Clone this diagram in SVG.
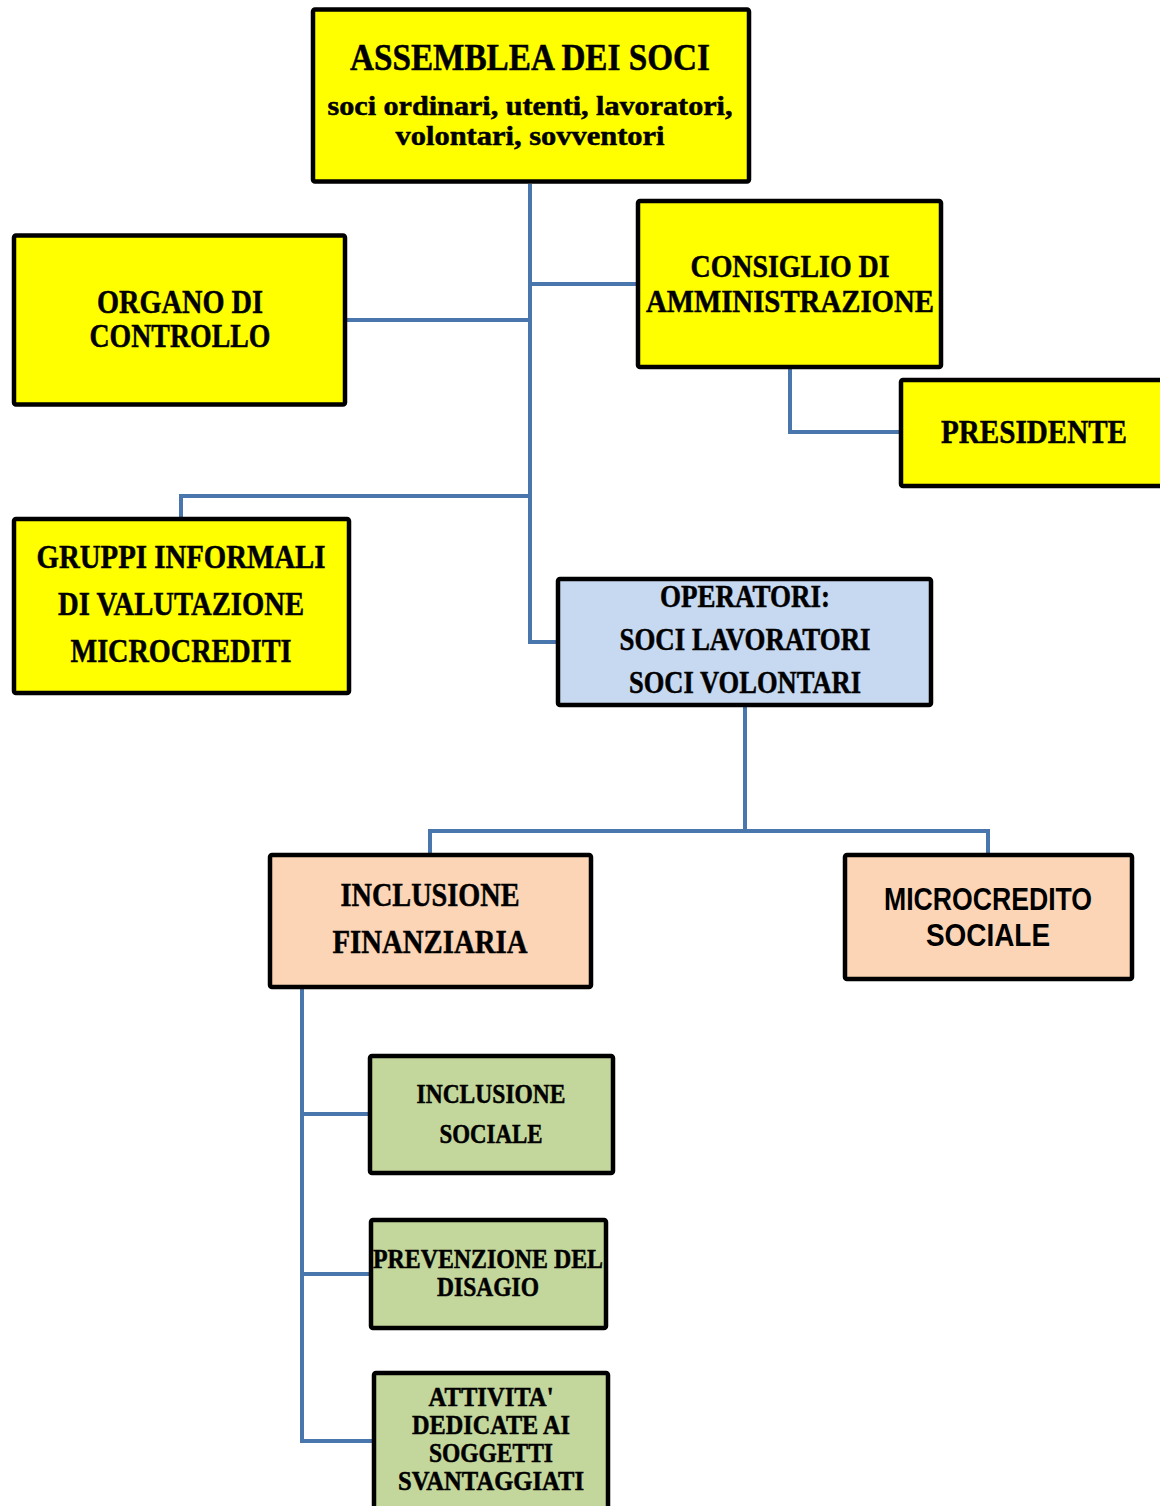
<svg xmlns="http://www.w3.org/2000/svg" width="1160" height="1506" viewBox="0 0 1160 1506">
<style>
.box{stroke:#000;stroke-width:4.5}
.y{fill:#ffff00}
.b{fill:#c6d9f1}
.o{fill:#fbd5b5}
.g{fill:#c3d69b}
.t{font-family:"Liberation Serif","DejaVu Serif",serif;font-weight:bold;fill:#000;stroke:#000;stroke-width:0.5;text-anchor:middle}
.s{font-family:"Liberation Sans","DejaVu Sans",sans-serif;font-weight:bold;fill:#000;text-anchor:middle}
.c{fill:none;stroke:#4a76ae;stroke-width:4}
</style>
<rect width="1160" height="1506" fill="#fff"/>
<g id="connectors">
<path class="c" d="M530 184 V642 H556"/>
<path class="c" d="M530 284 H636"/>
<path class="c" d="M347 320 H530"/>
<path class="c" d="M530 496 H181 V517"/>
<path class="c" d="M790 369 V432 H899"/>
<path class="c" d="M745 707 V831"/>
<path class="c" d="M430 853 V831 H988 V853"/>
<path class="c" d="M302 989 V1441 H372"/>
<path class="c" d="M302 1114 H368"/>
<path class="c" d="M302 1274 H369"/>
</g>
<g id="assemblea">
<rect class="box y" x="313" y="9.5" width="436" height="172" rx="2"/>
<text class="t" x="530" y="70" font-size="38" textLength="360" lengthAdjust="spacingAndGlyphs">ASSEMBLEA DEI SOCI</text>
<text class="t" x="530" y="115" font-size="27" textLength="405" lengthAdjust="spacingAndGlyphs">soci ordinari, utenti, lavoratori,</text>
<text class="t" x="530" y="145" font-size="27" textLength="269" lengthAdjust="spacingAndGlyphs">volontari, sovventori</text>
</g>
<g id="organo">
<rect class="box y" x="14" y="235.5" width="331" height="169" rx="2"/>
<text class="t" x="180" y="313" font-size="34" textLength="166" lengthAdjust="spacingAndGlyphs">ORGANO DI</text>
<text class="t" x="180" y="347" font-size="34" textLength="181" lengthAdjust="spacingAndGlyphs">CONTROLLO</text>
</g>
<g id="consiglio">
<rect class="box y" x="638" y="201" width="303" height="166" rx="2"/>
<text class="t" x="790" y="277" font-size="31" textLength="199" lengthAdjust="spacingAndGlyphs">CONSIGLIO DI</text>
<text class="t" x="790" y="312" font-size="31" textLength="288" lengthAdjust="spacingAndGlyphs">AMMINISTRAZIONE</text>
</g>
<g id="presidente">
<rect class="box y" x="901" y="380" width="270" height="106" rx="2"/>
<text class="t" x="1034" y="443" font-size="34" textLength="186" lengthAdjust="spacingAndGlyphs">PRESIDENTE</text>
</g>
<g id="gruppi">
<rect class="box y" x="14" y="519" width="335" height="174" rx="2"/>
<text class="t" x="181" y="568" font-size="34" textLength="289" lengthAdjust="spacingAndGlyphs">GRUPPI INFORMALI</text>
<text class="t" x="181" y="615" font-size="34" textLength="246" lengthAdjust="spacingAndGlyphs">DI VALUTAZIONE</text>
<text class="t" x="181" y="662" font-size="34" textLength="221" lengthAdjust="spacingAndGlyphs">MICROCREDITI</text>
</g>
<g id="operatori">
<rect class="box b" x="558" y="579" width="373" height="126" rx="2"/>
<text class="t" x="745" y="607" font-size="32" textLength="170" lengthAdjust="spacingAndGlyphs">OPERATORI:</text>
<text class="t" x="745" y="650" font-size="32" textLength="251" lengthAdjust="spacingAndGlyphs">SOCI LAVORATORI</text>
<text class="t" x="745" y="693" font-size="32" textLength="232" lengthAdjust="spacingAndGlyphs">SOCI VOLONTARI</text>
</g>
<g id="inclusione-finanziaria">
<rect class="box o" x="270" y="855" width="321" height="132" rx="2"/>
<text class="t" x="430" y="906" font-size="34" textLength="179" lengthAdjust="spacingAndGlyphs">INCLUSIONE</text>
<text class="t" x="430" y="953" font-size="34" textLength="195" lengthAdjust="spacingAndGlyphs">FINANZIARIA</text>
</g>
<g id="microcredito-sociale">
<rect class="box o" x="845" y="855" width="287" height="124" rx="2"/>
<text class="s" x="988" y="910" font-size="32" textLength="208" lengthAdjust="spacingAndGlyphs">MICROCREDITO</text>
<text class="s" x="988" y="946" font-size="32" textLength="124" lengthAdjust="spacingAndGlyphs">SOCIALE</text>
</g>
<g id="inclusione-sociale">
<rect class="box g" x="370" y="1056" width="243" height="117" rx="2"/>
<text class="t" x="491" y="1103" font-size="27" textLength="149" lengthAdjust="spacingAndGlyphs">INCLUSIONE</text>
<text class="t" x="491" y="1143" font-size="27" textLength="103" lengthAdjust="spacingAndGlyphs">SOCIALE</text>
</g>
<g id="prevenzione">
<rect class="box g" x="371" y="1220" width="235" height="108" rx="2"/>
<text class="t" x="488" y="1268" font-size="27" textLength="230" lengthAdjust="spacingAndGlyphs">PREVENZIONE DEL</text>
<text class="t" x="488" y="1296" font-size="27" textLength="102" lengthAdjust="spacingAndGlyphs">DISAGIO</text>
</g>
<g id="attivita">
<rect class="box g" x="374" y="1373" width="234" height="150" rx="2"/>
<text class="t" x="491" y="1406" font-size="27" textLength="125" lengthAdjust="spacingAndGlyphs">ATTIVITA'</text>
<text class="t" x="491" y="1434" font-size="27" textLength="158" lengthAdjust="spacingAndGlyphs">DEDICATE AI</text>
<text class="t" x="491" y="1462" font-size="27" textLength="124" lengthAdjust="spacingAndGlyphs">SOGGETTI</text>
<text class="t" x="491" y="1490" font-size="27" textLength="186" lengthAdjust="spacingAndGlyphs">SVANTAGGIATI</text>
</g>
</svg>
